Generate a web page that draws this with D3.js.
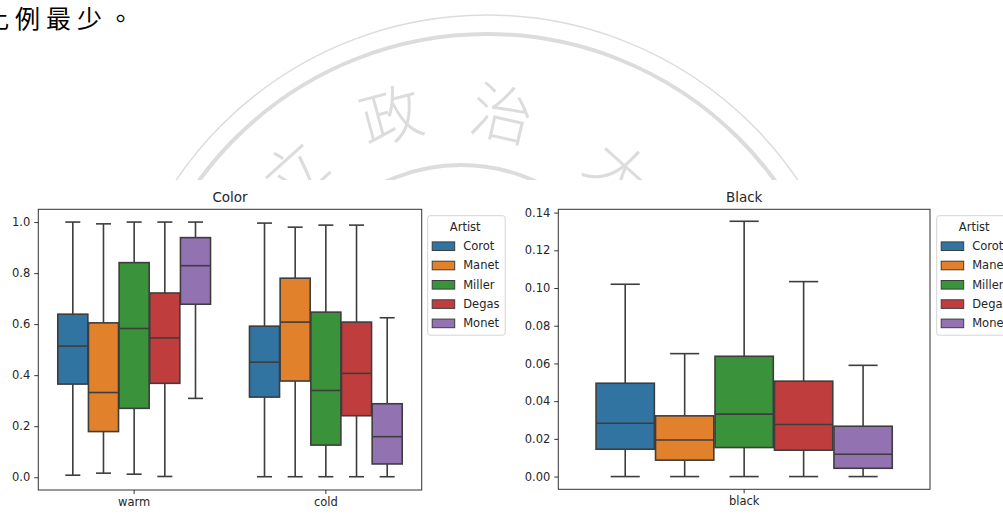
<!DOCTYPE html>
<head>
  <meta charset="utf-8">
  <title>Color / Black boxplots</title>
  <style>
    body { margin: 0; background: #fff; }
    text { font-family: "DejaVu Sans", sans-serif; fill: #262626; }
  </style>
</head>

<body>
  <script src="https://d3js.org/d3.v7.min.js"></script>
  <script>
  // artists (hue) and their seaborn colours
  const artists = ["Corot", "Manet", "Miller", "Degas", "Monet"];
  const palette = ["#3274a1", "#e1812c", "#3a923a", "#c03d3e", "#9372b2"];

  // each row: [whisker low, q1, median, q3, whisker high], one per artist
  const colorCats = ["warm", "cold"];
  const warmBox = [
    [0.008, 0.365, 0.514, 0.639, 1.000],
    [0.016, 0.179, 0.332, 0.605, 0.993],
    [0.012, 0.270, 0.583, 0.841, 1.000],
    [0.003, 0.368, 0.546, 0.722, 1.000],
    [0.309, 0.678, 0.829, 0.939, 1.000]
  ];
  const coldBox = [
    [0.002, 0.314, 0.451, 0.592, 0.996],
    [0.002, 0.377, 0.608, 0.780, 0.980],
    [0.002, 0.126, 0.340, 0.647, 0.988],
    [0.002, 0.241, 0.407, 0.608, 0.988],
    [0.002, 0.052, 0.159, 0.288, 0.625]
  ];
  const colorTicks = [0, 0.2, 0.4, 0.6, 0.8, 1.0];

  const blackCats = ["black"];
  const blackBox = [
    [0.0, 0.0145, 0.0283, 0.0495, 0.1020],
    [0.0, 0.0087, 0.0194, 0.0322, 0.0652],
    [0.0, 0.0154, 0.0331, 0.0638, 0.1354],
    [0.0, 0.0140, 0.0276, 0.0506, 0.1034],
    [0.0, 0.0044, 0.0118, 0.0267, 0.0590]
  ];
  const blackTicks = [0, 0.02, 0.04, 0.06, 0.08, 0.10, 0.12, 0.14];

  const W = 1003, H = 514;
  const svg = d3.select("body").append("svg")
    .attr("width", W).attr("height", H);

  // ---- page background: watermark + text above the figure ----
  svg.append("clipPath").attr("id", "wmclip")
    .append("rect").attr("x", 0).attr("y", 0).attr("width", W).attr("height", 180);
  const wm = svg.append("g").attr("clip-path", "url(#wmclip)");
  const wmColor = "#dcdcdc";
  wm.append("circle").attr("cx", 487).attr("cy", 390).attr("r", 375)
    .attr("fill", "none").attr("stroke", wmColor).attr("stroke-width", 1.5);
  wm.append("circle").attr("cx", 487).attr("cy", 390).attr("r", 356)
    .attr("fill", "none").attr("stroke", wmColor).attr("stroke-width", 4);
  wm.append("circle").attr("cx", 461).attr("cy", 343).attr("r", 178)
    .attr("fill", "none").attr("stroke", wmColor).attr("stroke-width", 4);
  const wmChars = [
    {c: "立", x: 292, y: 170, r: -42},
    {c: "政", x: 390, y: 112, r: -15},
    {c: "治", x: 503, y: 110, r: 13},
    {c: "大", x: 622, y: 170, r: 42}
  ];
  wm.selectAll("text.wm").data(wmChars).enter().append("text")
    .attr("class", "wm")
    .attr("transform", d => `translate(${d.x},${d.y}) rotate(${d.r})`)
    .attr("text-anchor", "middle")
    .attr("dominant-baseline", "central")
    .style("font-family", "'Noto Sans CJK TC'")
    .style("font-weight", 300)
    .style("font-size", "62px")
    .style("fill", wmColor)
    .text(d => d.c);

  // page text, its first character runs off the left edge
  svg.append("text")
    .attr("x", -16).attr("y", 28)
    .style("font-family", "'Noto Sans CJK TC'")
    .style("font-size", "25px")
    .style("letter-spacing", "6px")
    .style("fill", "#000")
    .text("比例最少。");

  // ---- one seaborn-like boxplot panel ----
  function drawPanel(o) {
    const g = svg.append("g");
    const x = d3.scaleBand().domain(o.cats).range([o.x0, o.x1]);
    const y = d3.scaleLinear().domain(o.yDomain).range([o.y1, o.y0]);
    const hue = d3.scaleBand().domain(artists)
      .range([-0.4 * x.bandwidth(), 0.4 * x.bandwidth()]);
    const bw = hue.bandwidth() * 0.98;
    const line = "#3d3d3d";

    o.cats.forEach((cat, ci) => {
      const stats = o.boxes[ci];
      artists.forEach((a, ai) => {
        const [lo, q1, med, q3, hi] = stats[ai];
        const cx = x(cat) + x.bandwidth() / 2 + hue(a) + hue.bandwidth() / 2;
        const bg = g.append("g");
        // whiskers
        bg.append("line").attr("x1", cx).attr("x2", cx)
          .attr("y1", y(hi)).attr("y2", y(q3))
          .attr("stroke", line).attr("stroke-width", 1.6);
        bg.append("line").attr("x1", cx).attr("x2", cx)
          .attr("y1", y(q1)).attr("y2", y(lo))
          .attr("stroke", line).attr("stroke-width", 1.6);
        // caps
        [lo, hi].forEach(v => {
          bg.append("line").attr("x1", cx - bw / 4).attr("x2", cx + bw / 4)
            .attr("y1", y(v)).attr("y2", y(v))
            .attr("stroke", line).attr("stroke-width", 1.6);
        });
        bg.append("rect")
          .attr("x", cx - bw / 2).attr("width", bw)
          .attr("y", y(q3)).attr("height", y(q1) - y(q3))
          .attr("fill", palette[ai])
          .attr("stroke", line).attr("stroke-width", 1.6);
        bg.append("line").attr("x1", cx - bw / 2).attr("x2", cx + bw / 2)
          .attr("y1", y(med)).attr("y2", y(med))
          .attr("stroke", line).attr("stroke-width", 1.6);
      });
    });

    // frame
    g.append("rect").attr("x", o.x0).attr("y", o.y0)
      .attr("width", o.x1 - o.x0).attr("height", o.y1 - o.y0)
      .attr("fill", "none").attr("stroke", "#333").attr("stroke-width", 1);

    // y axis
    const ya = g.append("g").attr("transform", `translate(${o.x0},0)`)
      .call(d3.axisLeft(y).tickValues(o.ticks).tickFormat(d3.format(o.fmt))
        .tickSize(4).tickPadding(4));
    ya.select(".domain").remove();
    ya.selectAll("line").attr("stroke", "#333");
    ya.selectAll("text").style("font-size", "11.5px").attr("fill", "#262626")
      .style("font-family", "'DejaVu Sans'");

    // x axis
    const xa = g.append("g").attr("transform", `translate(0,${o.y1})`)
      .call(d3.axisBottom(x).tickSize(4).tickPadding(4));
    xa.select(".domain").remove();
    xa.selectAll("line").attr("stroke", "#333");
    xa.selectAll("text").style("font-size", "11.5px").attr("fill", "#262626")
      .style("font-family", "'DejaVu Sans'");

    // title
    g.append("text").attr("x", (o.x0 + o.x1) / 2).attr("y", o.y0 - 7)
      .attr("text-anchor", "middle").style("font-size", "13.5px")
      .text(o.title);

    // legend
    const lg = g.append("g").attr("transform", `translate(${o.lx},${o.ly})`);
    lg.append("rect").attr("width", 77.5).attr("height", 119.5)
      .attr("rx", 2.5).attr("fill", "#fff").attr("fill-opacity", 0.8)
      .attr("stroke", "#d4d4d4").attr("stroke-width", 1);
    lg.append("text").attr("x", o.ltx).attr("y", 15)
      .attr("text-anchor", "middle").style("font-size", "11.5px").text("Artist");
    artists.forEach((a, i) => {
      const ry = 30.5 + i * 19.3;
      lg.append("rect").attr("x", 4.5).attr("y", ry - 4.3)
        .attr("width", 22.5).attr("height", 8.6)
        .attr("fill", palette[i]).attr("stroke", line).attr("stroke-width", 1);
      lg.append("text").attr("x", 35.5).attr("y", ry + 4)
        .style("font-size", "11.5px").text(a);
    });
  }

  drawPanel({
    title: "Color", cats: colorCats, boxes: [warmBox, coldBox],
    x0: 38.3, x1: 421.7, y0: 209.3, y1: 490,
    yDomain: [-0.05, 1.05], ticks: colorTicks, fmt: ".1f",
    lx: 427.7, ly: 215.7, ltx: 37.5
  });
  drawPanel({
    title: "Black", cats: blackCats, boxes: [blackBox],
    x0: 558.3, x1: 930, y0: 209.3, y1: 489.3,
    yDomain: [-0.00675, 0.14175], ticks: blackTicks, fmt: ".2f",
    lx: 936.7, ly: 215.7, ltx: 37.5
  });
  </script>
</body>
</html>
